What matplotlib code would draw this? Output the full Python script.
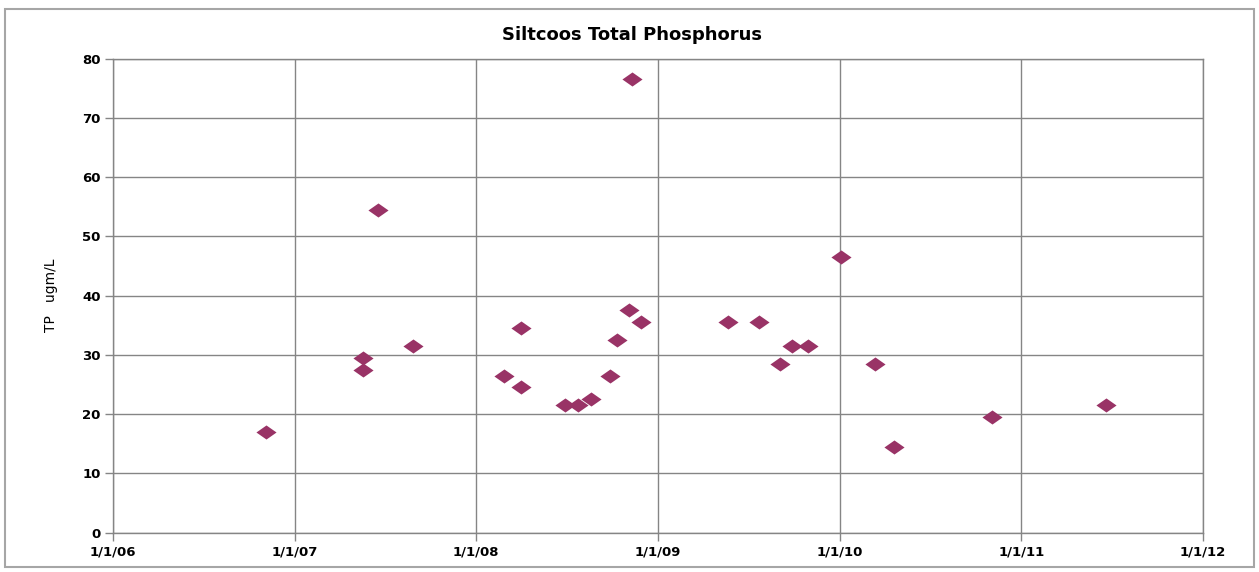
import matplotlib
matplotlib.use("Agg")
import matplotlib.pyplot as plt
import matplotlib.dates as mdates
from matplotlib.patches import Rectangle
import numpy as np
import pandas as pd

# sample dates and total phosphorus readings (ugm/L)
sample_dates = ["2006-11-04", "2007-05-19", "2007-05-19", "2007-06-18", "2007-08-27",
                "2008-02-26", "2008-03-31", "2008-03-31", "2008-06-28", "2008-07-24",
                "2008-08-19", "2008-09-26", "2008-10-10", "2008-11-03", "2008-11-09",
                "2008-11-27", "2009-05-21", "2009-07-22", "2009-09-02", "2009-09-26",
                "2009-10-30", "2010-01-03", "2010-03-12", "2010-04-19", "2010-11-02",
                "2011-06-21"]
tp_values = [17, 29.5, 27.5, 54.5, 31.5,
             26.5, 34.5, 24.5, 21.5, 21.5,
             22.5, 26.5, 32.5, 37.5, 76.5,
             35.5, 35.5, 35.5, 28.5, 31.5,
             31.5, 46.5, 28.5, 14.5, 19.5,
             21.5]

# axis ticks
x_tick_dates = ["2006-01-01", "2007-01-01", "2008-01-01", "2009-01-01",
                "2010-01-01", "2011-01-01", "2012-01-01"]
x_tick_labels = ["1/1/06", "1/1/07", "1/1/08", "1/1/09", "1/1/10", "1/1/11", "1/1/12"]
y_ticks = [0, 10, 20, 30, 40, 50, 60, 70, 80]

dates = pd.to_datetime(sample_dates)
xticks = pd.to_datetime(x_tick_dates)

fig = plt.figure(figsize=(12.59, 5.72), dpi=100)
# outer chart border, Excel style
fig.patches.append(Rectangle((5 / 1259, 5 / 572), 1249 / 1259, 558 / 572,
                             transform=fig.transFigure, fill=False,
                             edgecolor="#a6a6a6", linewidth=1.5))

ax = fig.add_axes([113 / 1259, (572 - 532.6) / 572, 1090 / 1259, 474 / 572])

grid_col = "#858585"
ax.set_xlim(xticks[0], xticks[-1])
ax.set_ylim(0, 80)
ax.set_xticks(xticks)
ax.set_xticklabels(x_tick_labels)
ax.set_yticks(y_ticks)
ax.grid(True, color=grid_col, linewidth=1.0)
ax.set_axisbelow(True)

for side in ["top", "right", "left", "bottom"]:
    ax.spines[side].set_color(grid_col)
    ax.spines[side].set_linewidth(1.0)

ax.tick_params(axis="both", direction="out", length=6, width=1.0, color=grid_col,
               labelsize=9.5, pad=3)
for lab in ax.get_xticklabels() + ax.get_yticklabels():
    lab.set_fontweight("bold")

# wide diamond marker
diamond = [(-1, 0), (0, 0.7), (1, 0), (0, -0.7), (-1, 0)]
ax.scatter(mdates.date2num(dates), tp_values, marker=diamond, s=210,
           color="#993366", linewidths=0, zorder=3, clip_on=False)

ax.set_ylabel("TP   ugm/L", fontsize=10, labelpad=17)
fig.text(632 / 1259, 1 - 35 / 572, "Siltcoos Total Phosphorus", ha="center",
         va="center", fontsize=13, fontweight="semibold")

fig.savefig("out.png", dpi=100)
